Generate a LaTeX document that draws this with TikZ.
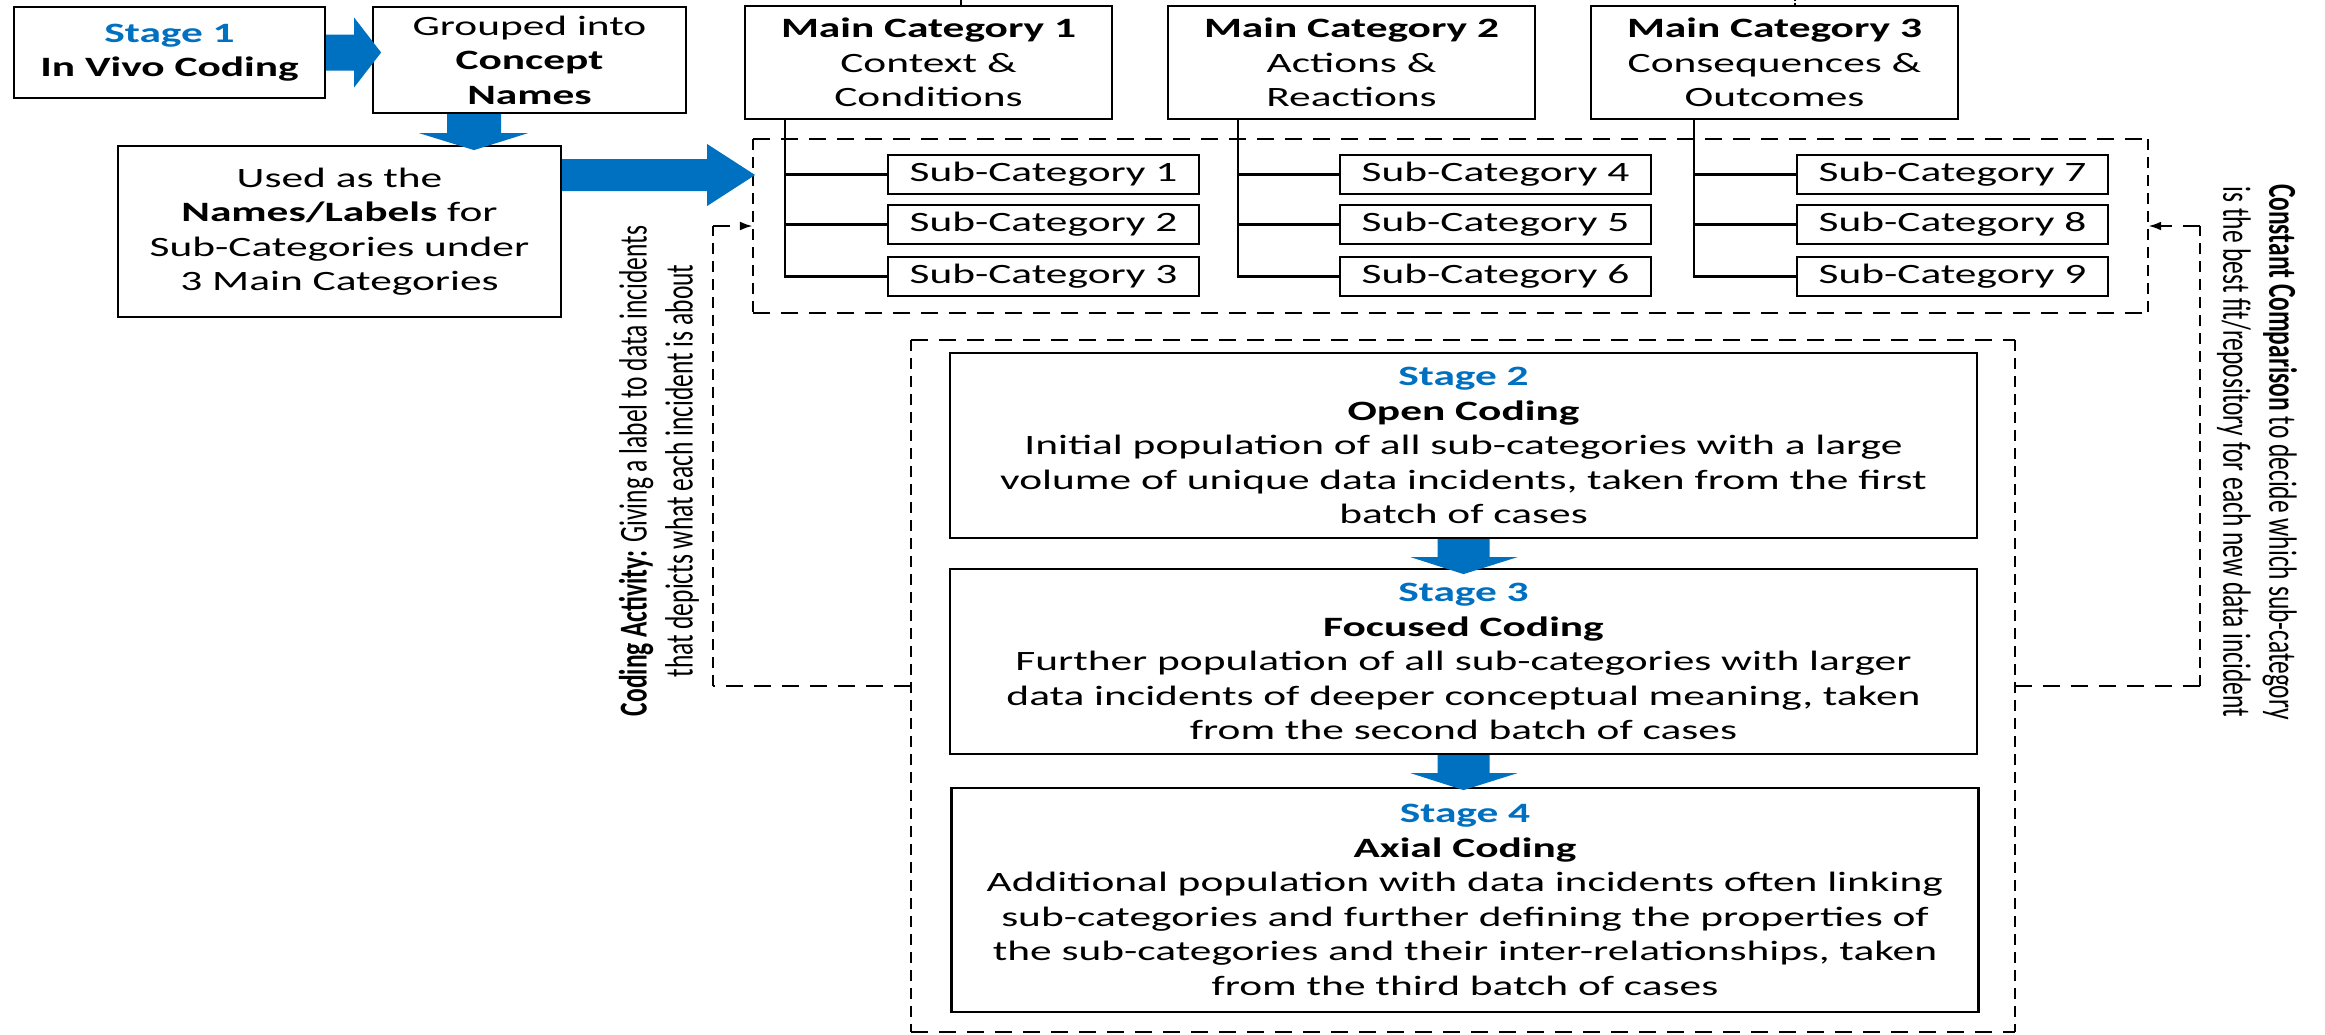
\documentclass[tikz,border=0pt]{standalone}
\usepackage{fontspec}
\setmainfont{Carlito}[FakeStretch=1.55]
\newfontfamily\rotfamily{Carlito}[FakeStretch=0.645]
\usetikzlibrary{arrows.meta,calc}
\definecolor{sblue}{HTML}{0070C0}
\tikzset{
  box/.style={draw, line width=2.2pt, inner sep=0pt, align=center,
    font=\fontsize{28}{34.5}\selectfont},
  subbox/.style={box, minimum width=311pt, minimum height=39pt},
  mainbox/.style={box, minimum width=367pt, minimum height=113pt},
  stagebox/.style={box, minimum width=1027pt},
  region/.style={inner sep=0pt},
  hd/.style={line width=2.4pt, dash pattern=on 17pt off 11pt},
  vd/.style={line width=2.4pt, dash pattern=on 11pt off 7pt},
  tree/.style={line width=2.4pt},
  blockarrow/.style={fill=sblue, draw=none},
  fbtip/.style={-{Latex[length=13pt,width=9pt]}},
  rottext/.style={align=center, inner sep=0pt, font=\rotfamily\fontsize{39.5}{46}\selectfont}
}
\begin{document}
\begin{tikzpicture}[x=1pt,y=-1pt]
\fill[white] (0,0) rectangle (2325,1034);
\useasboundingbox (0,0) rectangle (2325,1034);

% left column
\node[box, minimum width=311pt, minimum height=91pt] (s1) at (169.5,52.5)
  {\textcolor{sblue}{\textbf{Stage 1}}\\\textbf{In Vivo Coding}};
\node[box, minimum width=313pt, minimum height=106pt] (grp) at (529.5,60)
  {Grouped into\\\textbf{Concept}\\\textbf{Names}};
\node[box, minimum width=443pt, minimum height=171pt] (used) at (339.5,231.5)
  {Used as the\\\textbf{Names/Labels} for\\Sub-Categories under\\3 Main Categories};

% main categories
\node[mainbox] (mc1) at (928.5,62.5) {\textbf{Main Category 1}\\Context \&\\Conditions};
\node[mainbox] (mc2) at (1351.5,62.5) {\textbf{Main Category 2}\\Actions \&\\Reactions};
\node[mainbox] (mc3) at (1774.5,62.5) {\textbf{Main Category 3}\\Consequences \&\\Outcomes};

% sub categories
\node[subbox] (sc1) at (1043.5,174.5) {Sub-Category 1};
\node[subbox] (sc2) at (1043.5,224.5) {Sub-Category 2};
\node[subbox] (sc3) at (1043.5,276.5) {Sub-Category 3};
\node[subbox] (sc4) at (1495.5,174.5) {Sub-Category 4};
\node[subbox] (sc5) at (1495.5,224.5) {Sub-Category 5};
\node[subbox] (sc6) at (1495.5,276.5) {Sub-Category 6};
\node[subbox] (sc7) at (1952.5,174.5) {Sub-Category 7};
\node[subbox] (sc8) at (1952.5,224.5) {Sub-Category 8};
\node[subbox] (sc9) at (1952.5,276.5) {Sub-Category 9};

% trees
\coordinate (t1) at (785,119);
\coordinate (t2) at (1238,119);
\coordinate (t3) at (1694,119);
\foreach \t/\a/\b/\c in {t1/sc1/sc2/sc3, t2/sc4/sc5/sc6, t3/sc7/sc8/sc9}{
  \draw[tree] (\t) -- (\t |- \c.west) -- (\c.west);
  \draw[tree] (\t |- \a.west) -- (\a.west);
  \draw[tree] (\t |- \b.west) -- (\b.west);
}
% stubs at the top edge
\draw[tree] (mc1.north -| 961,0) -- (961,0);
\draw[line width=1.6pt, dotted] (mc3.north -| 1795,0) -- (1795,0);

% stage boxes
\node[stagebox, minimum height=185pt] (st2) at (1463.5,445.5)
  {\textcolor{sblue}{\textbf{Stage 2}}\\\textbf{Open Coding}\\
   Initial population of all sub-categories with a large\\
   volume of unique data incidents, taken from the first\\
   batch of cases};
\node[stagebox, minimum height=185pt] (st3) at (1463.5,661.5)
  {\textcolor{sblue}{\textbf{Stage 3}}\\\textbf{Focused Coding}\\
   Further population of all sub-categories with larger\\
   data incidents of deeper conceptual meaning, taken\\
   from the second batch of cases};
\node[stagebox, minimum height=224pt] (st4) at (1465,900)
  {\textcolor{sblue}{\textbf{Stage 4}}\\\textbf{Axial Coding}\\
   Additional population with data incidents often linking\\
   sub-categories and further defining the properties of\\
   the sub-categories and their inter-relationships, taken\\
   from the third batch of cases};

% dashed regions
\node[region, minimum width=1395pt, minimum height=174pt] (sbx) at (1450.5,226) {};
\node[region, minimum width=1104pt, minimum height=692pt] (stg) at (1463,686) {};
\foreach \r in {sbx, stg}{
  \draw[hd] (\r.north west) -- (\r.north east);
  \draw[hd] (\r.south west) -- (\r.south east);
  \draw[vd] (\r.north west) -- (\r.south west);
  \draw[vd] (\r.north east) -- (\r.south east);
}

% blue block arrows
\fill[blockarrow] (s1.east) ++(0,-18) -- ++(28,0) -- ++(0,-17) -- ++(27,35)
  -- ++(-27,35) -- ++(0,-17) -- ++(-28,0) -- cycle;
\fill[blockarrow] (grp.south) ++(-82.5,0) -- ++(54,0) -- ++(0,19) -- ++(27,0)
  -- ++(-54,17) -- ++(-55,-17) -- ++(28,0) -- cycle;
\fill[blockarrow] (used.east) ++(0,-72.5) -- ++(145,0) -- ++(0,-15) -- ++(48,31)
  -- ++(-48,31) -- ++(0,-15) -- ++(-145,0) -- cycle;
\fill[blockarrow] (st2.south) ++(-26,0) -- ++(52,0) -- ++(0,18) -- ++(28,0)
  -- ++(-54,17) -- ++(-53,-17) -- ++(27,0) -- cycle;
\fill[blockarrow] (st3.south) ++(-26,0) -- ++(52,0) -- ++(0,18) -- ++(28,0)
  -- ++(-54,17) -- ++(-53,-17) -- ++(27,0) -- cycle;

% feedback loops
\coordinate (fl) at (713,686);
\coordinate (fr) at (2200,686);
\draw[hd] (stg.west) -- (fl);
\draw[vd] (fl) -- (fl |- sbx.west);
\draw[hd, fbtip] (fl |- sbx.west) -- (sbx.west);
\draw[hd] (stg.east) -- (fr);
\draw[vd] (fr) -- (fr |- sbx.east);
\draw[hd, fbtip] (fr |- sbx.east) -- (sbx.east);

% rotated labels
\node[rottext, rotate=90] (lt) at (659,471)
  {\textbf{Coding Activity:} Giving a label to data incidents\\
   that depicts what each incident is about};
\node[rottext, rotate=-90] (rt) at (2257,452)
  {\textbf{Constant Comparison} to decide which sub-category\\
   is the best fit/repository for each new data incident};
\end{tikzpicture}
\end{document}
